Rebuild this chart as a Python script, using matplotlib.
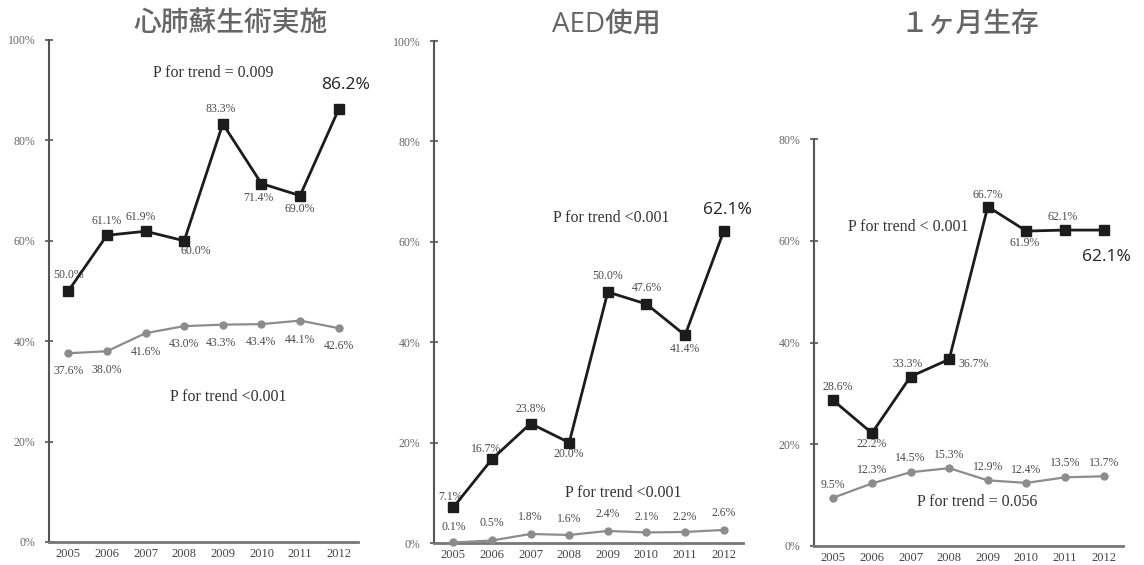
import numpy as np
import matplotlib
matplotlib.use("Agg")
import matplotlib.pyplot as plt

years = [2005, 2006, 2007, 2008, 2009, 2010, 2011, 2012]

# 心肺蘇生術実施
cpr_top = [50.0, 61.1, 61.9, 60.0, 83.3, 71.4, 69.0, 86.2]
cpr_low = [37.6, 38.0, 41.6, 43.0, 43.3, 43.4, 44.1, 42.6]
# AED使用
aed_top = [7.1, 16.7, 23.8, 20.0, 50.0, 47.6, 41.4, 62.1]
aed_low = [0.1, 0.5, 1.8, 1.6, 2.4, 2.1, 2.2, 2.6]
# １ヶ月生存
surv_top = [28.6, 22.2, 33.3, 36.7, 66.7, 61.9, 62.1, 62.1]
surv_low = [9.5, 12.3, 14.5, 15.3, 12.9, 12.4, 13.5, 13.7]

titles = ["心肺蘇生術実施", "AED使用", "１ヶ月生存"]
ymax = [100, 100, 80]
trend_top = ["P for trend = 0.009", "P for trend <0.001", "P for trend < 0.001"]
trend_low = ["P for trend <0.001", "P for trend <0.001", "P for trend = 0.056"]

W, H = 1144, 565
fig = plt.figure(figsize=(W / 100, H / 100), dpi=100)
fig.patch.set_facecolor("white")

SERIF = "Liberation Serif"
DARK = "#1c1c1c"
GREY = "#8c8c8c"
TXT = "#4a4a4a"

# axes rectangles in pixels: left, top, right, bottom
boxes = [(49, 40, 358, 542), (434, 41, 743, 543), (814, 139, 1123, 546)]
title_x = [231, 606, 970]

# label offsets in pixels (dx, dy) for each point
off_top = [
    [(0, 16), (0, 14), (-5, 14), (12, -10), (-2, 15), (-3, -14), (0, -13)],
    [(-3, 10), (-6, 10), (0, 15), (0, -11), (0, 16), (0, 16), (0, -14)],
    [(4, 13), (0, -11), (-3, 13), (24, -5), (0, 12), (-2, -12), (-2, 13)],
]
off_low = [
    [(0, -18), (0, -19), (0, -19), (0, -18), (-2, -18), (0, -18), (0, -19), (0, -18)],
    [(0, 15), (0, 17), (0, 17), (0, 16), (0, 17), (0, 15), (0, 15), (0, 17)],
    [(0, 13), (0, 13), (0, 14), (0, 13), (0, 13), (0, 13), (0, 14), (0, 13)],
]
# big label on last point
off_big = [(7, 24), (4, 21), (3, -27)]
# trend text positions in data coords
pos_trend_top = [(2008.74, 93.4), (2009.08, 64.7), (2006.94, 62.7)]
pos_trend_low = [(2009.13, 28.9), (2009.39, 10.0), (2008.72, 8.6)]

tops = [cpr_top, aed_top, surv_top]
lows = [cpr_low, aed_low, surv_low]

for i in range(3):
    l, t, r, b = boxes[i]
    ax = fig.add_axes([l / W, (H - b) / H, (r - l) / W, (b - t) / H])
    ax.set_xlim(2004.5, 2012.5)
    ax.set_ylim(0, ymax[i])
    for s in ["top", "right"]:
        ax.spines[s].set_visible(False)
    ax.spines["left"].set_color("#555555")
    ax.spines["left"].set_linewidth(1.5)
    ax.spines["bottom"].set_color("#777777")
    ax.spines["bottom"].set_linewidth(2)

    ax.set_yticks(np.arange(0, ymax[i] + 1, 20))
    ax.set_yticklabels([f"{v}%" for v in range(0, ymax[i] + 1, 20)],
                       fontfamily=SERIF, fontsize=8.5, color="#666666")
    ax.tick_params(axis="y", direction="inout", length=6, width=1.2,
                   color="#555555", pad=7)
    ax.set_xticks(years)
    ax.set_xticklabels([str(y) for y in years], fontfamily=SERIF,
                       fontsize=9, color="#444444")
    ax.tick_params(axis="x", length=0, pad=4)

    ax.plot(years, lows[i], color=GREY, lw=1.6, marker="o", ms=5,
            mfc=GREY, mec=GREY, zorder=3, clip_on=False)
    ax.plot(years, tops[i], color=DARK, lw=2, marker="s", ms=6.5,
            mfc=DARK, mec=DARK, zorder=4, clip_on=False)

    for j, (x, v) in enumerate(zip(years, tops[i])):
        if j < len(years) - 1:
            ax.annotate(f"{v:.1f}%", (x, v), xytext=off_top[i][j],
                        textcoords="offset pixels", ha="center", va="center",
                        fontfamily=SERIF, fontsize=8.5, color=TXT)
        else:
            ax.annotate(f"{v:.1f}%", (x, v), xytext=off_big[i],
                        textcoords="offset pixels", ha="center", va="center",
                        fontfamily="Open Sans", fontsize=12.5, color="#222222")
    for j, (x, v) in enumerate(zip(years, lows[i])):
        ax.annotate(f"{v:.1f}%", (x, v), xytext=off_low[i][j],
                    textcoords="offset pixels", ha="center", va="center",
                    fontfamily=SERIF, fontsize=8.5, color=TXT)

    ax.text(*pos_trend_top[i], trend_top[i], ha="center", va="center",
            fontfamily=SERIF, fontsize=11.5, color="#333333")
    ax.text(*pos_trend_low[i], trend_low[i], ha="center", va="center",
            fontfamily=SERIF, fontsize=11.5, color="#333333")

    fig.text(title_x[i] / W, 1 - 25 / H, titles[i], ha="center", va="center",
             fontfamily=["Open Sans", "Noto Sans CJK JP"], fontsize=20,
             fontweight="medium", color="#666666")

fig.savefig("out.png", dpi=100, facecolor="white")
